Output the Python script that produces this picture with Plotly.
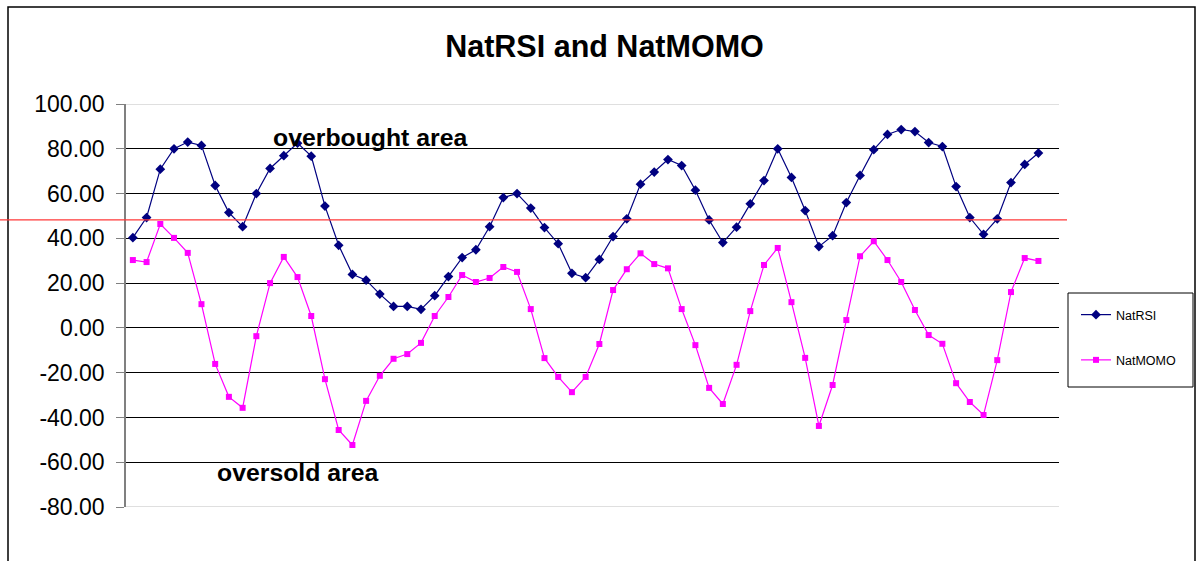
import plotly.graph_objects as go

nat_rsi = [40.3, 49.3, 70.9, 80.0, 83.0, 81.5, 63.6, 51.5, 45.2, 60.0,
           71.2, 76.9, 82.5, 76.7, 54.4, 36.9, 23.9, 21.3, 15.1, 9.6,
           9.6, 8.3, 14.4, 22.9, 31.4, 34.9, 45.2, 58.2, 60.0, 53.5,
           44.8, 37.6, 24.4, 22.4, 30.6, 40.8, 48.7, 64.2, 69.6, 75.2,
           72.5, 61.5, 48.2, 38.1, 45.0, 55.4, 65.8, 80.0, 67.2, 52.4,
           36.3, 41.2, 56.0, 68.1, 79.6, 86.4, 88.6, 87.7, 82.8, 81.0,
           63.1, 49.3, 41.8, 48.7, 64.9, 73.0, 78.1]
nat_momo = [30.3, 29.4, 46.4, 40.2, 33.5, 10.6, -16.1, -30.8, -35.7, -3.7,
            20.0, 31.7, 22.7, 5.3, -22.9, -45.6, -52.3, -32.6, -21.4, -13.8,
            -11.7, -6.7, 5.3, 13.8, 23.6, 20.5, 22.3, 27.2, 25.0, 8.4,
            -13.5, -21.9, -28.7, -21.9, -7.2, 16.9, 26.2, 33.3, 28.5, 26.6,
            8.4, -7.7, -26.8, -34.0, -16.5, 7.5, 28.1, 35.7, 11.5, -13.4,
            -43.8, -25.5, 3.5, 32.0, 38.7, 30.3, 20.5, 8.0, -3.2, -7.1,
            -24.7, -33.1, -38.9, -14.4, 16.0, 31.2, 29.9]
periods = list(range(len(nat_rsi)))
y_ticks = [100, 80, 60, 40, 20, 0, -20, -40, -60, -80]
y_tick_labels = [f"{v:.2f}" for v in y_ticks]
threshold = 48.2

FONT = "Liberation Sans, Arial, sans-serif"

fig = go.Figure()
fig.add_trace(go.Scatter(
    x=periods, y=nat_rsi, name="NatRSI", mode="lines+markers",
    line=dict(color="#000080", width=1.2),
    marker=dict(symbol="diamond", size=7.5, color="#000080"),
    legendgroup="a"))
fig.add_trace(go.Scatter(
    x=periods, y=nat_momo, name="NatMOMO", mode="lines+markers",
    line=dict(color="#FF00FF", width=1.2),
    marker=dict(symbol="square", size=6, color="#FF00FF"),
    legendgroup="b"))

W, H = 1197, 561
L, R, T, B = 126, 1059, 104, 507
pw, ph = R - L, B - T

def px_x(p):
    return (p - L) / pw

def px_y(p):
    return (B - p) / ph

fig.update_layout(
    width=W, height=H,
    margin=dict(l=L, r=W - R, t=T, b=H - B),
    paper_bgcolor="white", plot_bgcolor="white",
    font=dict(family=FONT, color="black"),
    title=dict(text="<b>NatRSI and NatMOMO</b>", x=604.5 / W, xref="container",
               xanchor="center", y=1 - 46 / H, yref="container", yanchor="middle",
               font=dict(size=30.5, family=FONT, color="black")),
    showlegend=True,
    legend=dict(x=px_x(1076), y=px_y(300), xanchor="left", yanchor="top",
                borderwidth=0, bgcolor="rgba(0,0,0,0)",
                font=dict(size=12.5, family=FONT), tracegroupgap=26,
                traceorder="grouped"),
    xaxis=dict(range=[-0.5, 67.5], showgrid=False, zeroline=False,
               showticklabels=False, ticks="", showline=False),
    yaxis=dict(range=[-80, 100], tickvals=y_ticks, ticktext=y_tick_labels,
               showgrid=True, gridcolor="#000000", gridwidth=1,
               zeroline=False, showline=True, linecolor="#808080", linewidth=1.5,
               ticks="outside", ticklen=8, tickcolor="#808080",
               ticklabelstandoff=7,
               tickfont=dict(size=23, family=FONT, color="black")),
)

shapes = [
    # light gray plot border at top and bottom
    dict(type="line", xref="paper", yref="y", x0=0, x1=1, y0=100, y1=100,
         line=dict(color="#C0C0C0", width=1.2), layer="above"),
    dict(type="line", xref="paper", yref="y", x0=0, x1=1, y0=-80, y1=-80,
         line=dict(color="#C0C0C0", width=1.2), layer="above"),
    # red threshold line
    dict(type="line", xref="paper", yref="y", x0=px_x(0), x1=px_x(1067),
         y0=threshold, y1=threshold, line=dict(color="#FF3838", width=1.2),
         layer="above"),
    # outer chart border
    dict(type="rect", xref="paper", yref="paper", x0=px_x(8), x1=px_x(1195),
         y0=px_y(575), y1=px_y(7), line=dict(color="#000000", width=1.5),
         layer="below"),
    # legend box
    dict(type="rect", xref="paper", yref="paper", x0=px_x(1068), x1=px_x(1193),
         y0=px_y(387), y1=px_y(293), line=dict(color="#000000", width=1),
         fillcolor="white", layer="below"),
]
fig.update_layout(shapes=shapes)

fig.add_annotation(text="<b>overbought area</b>", xref="paper", yref="paper",
                   x=px_x(271), y=px_y(137), xanchor="left", yanchor="middle",
                   showarrow=False, font=dict(size=24.8, family=FONT, color="black"))
fig.add_annotation(text="<b>oversold area</b>", xref="paper", yref="paper",
                   x=px_x(215), y=px_y(472), xanchor="left", yanchor="middle",
                   showarrow=False, font=dict(size=24.8, family=FONT, color="black"))

fig.write_html("out.html",
               config={"displayModeBar": False},
               post_script="document.body.style.margin='0';"
                           "document.body.style.overflow='hidden';")
